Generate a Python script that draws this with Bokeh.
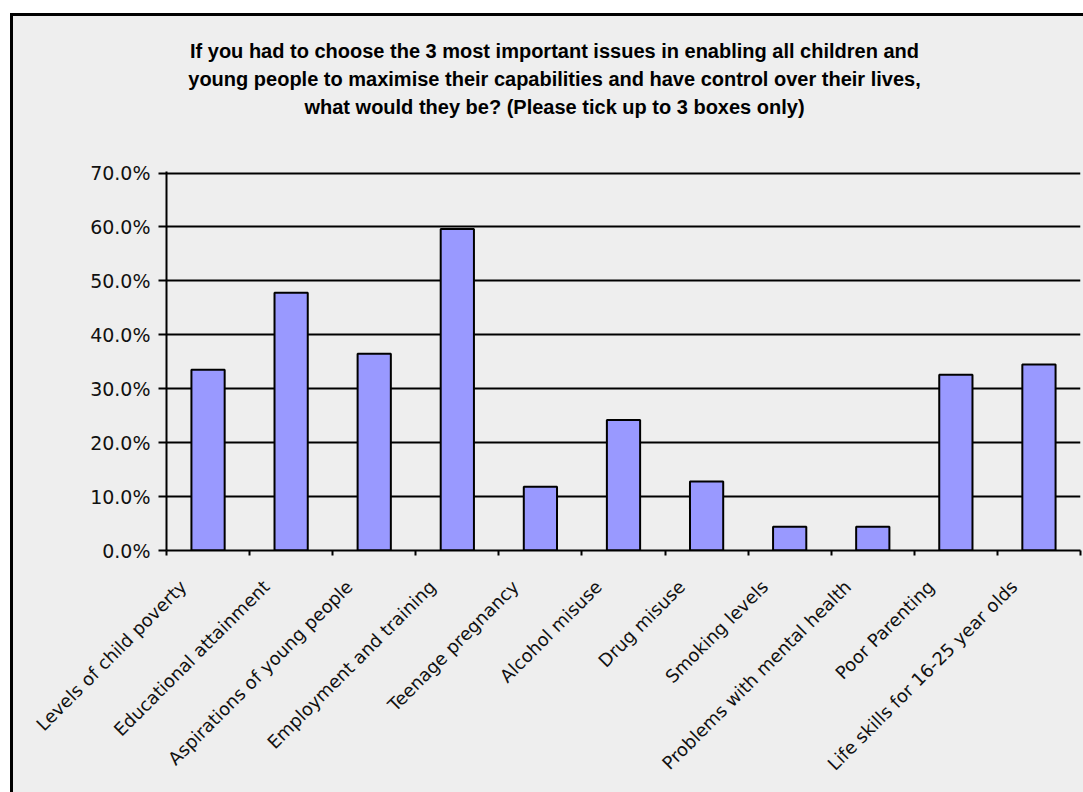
from math import pi

import numpy as np
from bokeh.core.properties import value
from bokeh.embed import file_html
from bokeh.layouts import column
from bokeh.models import FixedTicker, NumeralTickFormatter, Range1d
from bokeh.plotting import figure
from bokeh.resources import INLINE

# Survey responses: share of respondents ticking each issue
categories = [
    "Levels of child poverty",
    "Educational attainment",
    "Aspirations of young people",
    "Employment and training",
    "Teenage pregnancy",
    "Alcohol misuse",
    "Drug misuse",
    "Smoking levels",
    "Problems with mental health",
    "Poor Parenting",
    "Life skills for 16-25 year olds",
]
shares = [0.335, 0.478, 0.365, 0.596, 0.118, 0.242, 0.128, 0.044, 0.044, 0.326, 0.345]
y_ticks = [0.0, 0.1, 0.2, 0.3, 0.4, 0.5, 0.6, 0.7]
title_lines = [
    "If you had to choose the 3 most important issues in enabling all children and",
    "young people to maximise their capabilities and have control over their lives,",
    "what would they be? (Please tick up to 3 boxes only)",
]

PANEL = "#EEEEEE"
W = 1070            # inner width of the framed panel
HEAD_H = 128        # title strip
MAIN_H = 648        # chart below it
LINE_GAP = 28.0     # pixels between title baselines
FIRST_BASE = 34     # first baseline, pixels below the top of the strip
n = len(categories)
centers = np.arange(n) + 0.5
boundaries = list(range(n + 1))

# ---- title strip: one text row per line, rows counted downwards
head = figure(
    width=W, height=HEAD_H, output_backend="svg", toolbar_location=None,
    x_range=Range1d(0, 1),
    y_range=Range1d((HEAD_H - FIRST_BASE) / LINE_GAP, -FIRST_BASE / LINE_GAP),
    min_border=0, border_fill_color=PANEL, background_fill_color=PANEL,
    outline_line_color=None,
)
head.axis.visible = False
head.grid.visible = False
head.text(
    x=[0.5] * len(title_lines), y=list(range(len(title_lines))), text=title_lines,
    x_offset=-69, text_align="center", text_baseline="alphabetic",
    text_font=value("Liberation Sans"), text_font_style="bold",
    text_font_size=value("20px"), text_color="black",
)

# ---- bar chart
p = figure(
    width=W, height=MAIN_H, output_backend="svg", toolbar_location=None,
    # a hair of headroom so the top gridline is drawn inside the frame
    x_range=Range1d(0, n), y_range=Range1d(0, y_ticks[-1] * 1.004),
    min_border_left=153, min_border_right=3,
    min_border_top=27, min_border_bottom=242,
    border_fill_color=PANEL, background_fill_color=PANEL,
    outline_line_color=None,
)

p.vbar(x=centers, top=shares, bottom=0, width=0.4,
       fill_color="#9999FF", line_color="black", line_width=2)

# x axis: rotated names hung slightly left of each bar, short ticks on boundaries
label_shift = 0.3
label_pos = [round(c - label_shift, 3) for c in centers]
xa = p.xaxis[0]
xa.ticker = FixedTicker(ticks=label_pos, minor_ticks=boundaries)
xa.major_label_overrides = {pos: name for pos, name in zip(label_pos, categories)}
xa.major_label_orientation = pi / 4
xa.major_label_standoff = 28
xa.major_label_text_font = "DejaVu Sans"
xa.major_label_text_font_size = "18px"
xa.major_label_text_color = "#111111"
xa.major_tick_line_color = None
xa.major_tick_out = 0
xa.major_tick_in = 0
xa.minor_tick_out = 5
xa.minor_tick_in = 0
xa.minor_tick_line_color = "black"
xa.minor_tick_line_width = 2
xa.axis_line_color = "black"
xa.axis_line_width = 2

# y axis: percentages every 10 points
ya = p.yaxis[0]
ya.ticker = FixedTicker(ticks=y_ticks)
ya.formatter = NumeralTickFormatter(format="0.0%")
ya.minor_tick_line_color = None
ya.major_tick_out = 8
ya.major_tick_in = 0
ya.major_tick_line_color = "black"
ya.major_tick_line_width = 2
ya.axis_line_color = "black"
ya.axis_line_width = 2
ya.major_label_standoff = 8
ya.major_label_text_font = "DejaVu Sans"
ya.major_label_text_font_size = "19px"
ya.major_label_text_color = "#111111"

p.ygrid.ticker = FixedTicker(ticks=y_ticks)
p.ygrid.grid_line_color = "black"
p.ygrid.grid_line_width = 2
p.xgrid.visible = False

# grey panel with a black frame on its top and left edges
page = column(head, p, spacing=0)
page.margin = (13, 0, 0, 10)
page.styles = {"border-left": "3px solid black", "border-top": "3px solid black",
               "background-color": PANEL}

open("out.html", "w").write(file_html(page, INLINE))
